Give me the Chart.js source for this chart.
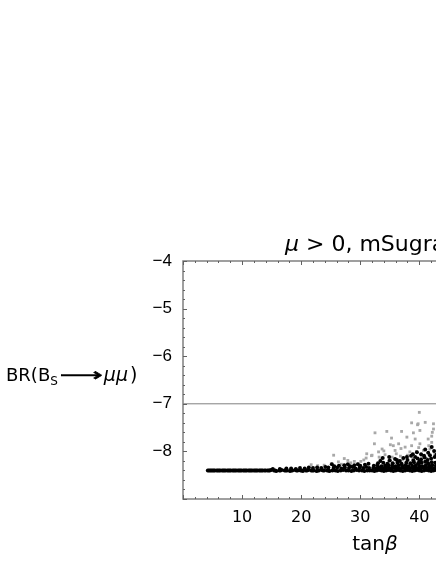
<!DOCTYPE html>
<html>
<head>
<meta charset="utf-8">
<script src="https://cdn.jsdelivr.net/npm/chart.js@4"></script>
<style>
  html, body { margin: 0; padding: 0; background: #fff; overflow: hidden; }
  #wrap { width: 436px; height: 564px; overflow: hidden; position: relative; }
  canvas { position: absolute; left: 0; top: 0; }
</style>
</head>
<body>
<div id="wrap"><canvas id="brChart" width="600" height="564"></canvas></div>
<script>
// tick labels
const xTickLabels = [10, 20, 30, 40, 50, 60];
const yTickLabels = [-4, -5, -6, -7, -8];

// experimental bound
const boundTan = [0, 65];
const boundBR = [-7, -7];

// points passing all constraints (black), [tanβ, log10 BR]
const blackPts = [
  [4.2,-8.40],[4.4,-8.40],[4.6,-8.40],[4.8,-8.40],[5.0,-8.40],[5.2,-8.40],[5.4,-8.40],[5.7,-8.40],
  [5.9,-8.40],[6.1,-8.40],[6.3,-8.40],[6.6,-8.40],[6.8,-8.40],[7.0,-8.40],[7.2,-8.40],[7.5,-8.40],
  [7.7,-8.40],[7.9,-8.40],[8.1,-8.40],[8.4,-8.40],[8.6,-8.40],[8.8,-8.40],[9.0,-8.40],[9.3,-8.40],
  [9.5,-8.40],[9.7,-8.40],[9.9,-8.40],[10.2,-8.40],[10.4,-8.40],[10.6,-8.40],[10.8,-8.40],[11.1,-8.40],
  [11.3,-8.40],[11.5,-8.40],[11.7,-8.40],[12.0,-8.40],[12.2,-8.40],[12.4,-8.40],[12.6,-8.40],[12.9,-8.40],
  [13.1,-8.40],[13.3,-8.40],[13.5,-8.40],[13.8,-8.40],[14.0,-8.40],[14.3,-8.40],
  [14.5,-8.40],[14.9,-8.39],[15.4,-8.40],[15.8,-8.41],[16.3,-8.40],[16.7,-8.39],[17.2,-8.40],[17.6,-8.40],
  [18.1,-8.41],[18.5,-8.40],[19.0,-8.39],[19.4,-8.40],[19.9,-8.40],[20.3,-8.41],[20.8,-8.40],[21.2,-8.39],
  [21.7,-8.40],[22.1,-8.40],[22.6,-8.41],[23.0,-8.40],[23.5,-8.39],[23.9,-8.40],[24.4,-8.40],[24.8,-8.41],
  [14.7,-8.40],[15.6,-8.40],[16.5,-8.40],[17.4,-8.40],[18.3,-8.40],[19.2,-8.40],[20.1,-8.40],[21.0,-8.40],
  [21.9,-8.40],[22.8,-8.40],[23.7,-8.40],[24.6,-8.40],
  [15.2,-8.37],[16.4,-8.37],[17.5,-8.36],[18.3,-8.36],[19.1,-8.37],[19.8,-8.35],[20.6,-8.36],[21.3,-8.34],
  [22.0,-8.35],[22.7,-8.34],[23.4,-8.35],[24.1,-8.33],[24.6,-8.34],[25.2,-8.27],[25.6,-8.31],
  [25.3,-8.40],[25.8,-8.40],[26.2,-8.41],[26.7,-8.40],[27.1,-8.39],[27.6,-8.40],[28.0,-8.40],[28.5,-8.41],
  [28.9,-8.40],[29.4,-8.39],[29.8,-8.40],[30.3,-8.40],[30.7,-8.41],[31.2,-8.40],[31.6,-8.40],
  [25.5,-8.35],[26.1,-8.34],[26.8,-8.36],[27.4,-8.34],[28.1,-8.35],[28.7,-8.33],[29.2,-8.36],[29.9,-8.34],
  [30.5,-8.35],[31.0,-8.33],[31.5,-8.35],
  [26.4,-8.30],[27.3,-8.29],[28.3,-8.31],[29.0,-8.29],[30.0,-8.30],[30.8,-8.28],[31.4,-8.26],[27.9,-8.27],[29.6,-8.27],
  [32.0,-8.40],[32.4,-8.41],[32.8,-8.40],[33.2,-8.39],[33.6,-8.40],[34.0,-8.41],[34.4,-8.40],[34.8,-8.39],
  [35.2,-8.40],[35.6,-8.41],[36.0,-8.40],[36.4,-8.39],[36.8,-8.40],[37.2,-8.41],[37.6,-8.40],[38.0,-8.39],
  [38.4,-8.40],[38.8,-8.41],[39.2,-8.40],[39.6,-8.39],[40.0,-8.40],[40.4,-8.41],[40.8,-8.40],[41.2,-8.39],
  [41.6,-8.40],[42.0,-8.41],[42.4,-8.40],[42.8,-8.39],[43.2,-8.40],
  [32.2,-8.35],[32.7,-8.36],[33.1,-8.34],[33.5,-8.35],[34.0,-8.36],[34.4,-8.34],[34.9,-8.35],[35.3,-8.36],
  [35.8,-8.34],[36.2,-8.35],[36.6,-8.36],[37.1,-8.34],[37.5,-8.35],[38.0,-8.34],[38.4,-8.36],[38.9,-8.35],
  [39.3,-8.34],[39.8,-8.35],[40.2,-8.36],[40.7,-8.34],[41.1,-8.35],[41.6,-8.34],[42.0,-8.35],[42.5,-8.36],[43.0,-8.34],
  [32.3,-8.30],[32.9,-8.29],[33.6,-8.31],[34.2,-8.30],[34.8,-8.29],[35.4,-8.30],[36.0,-8.31],[36.5,-8.29],
  [37.1,-8.30],[37.7,-8.29],[38.2,-8.31],[38.8,-8.30],[39.4,-8.29],[40.0,-8.30],[40.5,-8.31],[41.1,-8.29],
  [41.7,-8.30],[42.2,-8.29],[42.8,-8.30],
  [33.0,-8.25],[33.9,-8.24],[34.6,-8.26],[35.5,-8.25],[36.3,-8.24],[37.0,-8.26],[37.8,-8.24],[38.5,-8.25],
  [39.1,-8.23],[39.8,-8.25],[40.4,-8.24],[41.0,-8.22],[41.5,-8.25],[42.1,-8.23],[42.7,-8.24],
  [33.4,-8.20],[35.0,-8.19],[36.7,-8.20],[38.0,-8.18],[39.0,-8.19],[39.7,-8.15],[40.3,-8.17],[40.9,-8.13],
  [41.4,-8.18],[42.0,-8.15],[42.6,-8.12],[37.3,-8.14],[35.9,-8.16],
  [33.8,-8.14],[34.9,-8.12],[36.2,-8.18],[37.9,-8.12],[38.9,-8.06],[39.3,-8.12],[40.0,-8.21],[41.8,-8.08],
  [39.6,-8.02],[40.3,-8.06],[41.0,-7.96],[41.5,-8.03],[42.1,-7.91],[42.5,-7.99],[40.8,-8.09],[38.6,-8.09],[42.9,-8.07]
];

// excluded points (gray)
const grayPts = [
  [21.7,-8.28],[22.8,-8.30],[23.9,-8.29],[25.1,-8.26],[25.5,-8.08],[26.3,-8.22],[26.8,-8.27],[27.3,-8.15],
  [27.9,-8.19],[28.4,-8.24],[29.0,-8.21],[29.6,-8.26],[30.1,-8.21],[30.6,-8.18],[31.0,-8.14],[31.1,-8.05],
  [31.9,-8.09],[32.0,-8.08],[32.4,-7.84],[32.5,-7.61],[33.1,-8.01],[33.2,-8.12],[33.5,-8.17],[33.7,-7.95],
  [34.0,-7.99],[34.2,-8.07],[34.5,-7.58],[34.8,-8.20],[35.1,-7.86],[35.3,-7.72],[35.4,-8.12],[35.6,-7.88],
  [35.9,-7.98],[36.1,-8.05],[36.5,-7.84],[36.8,-8.10],[36.9,-7.94],[37.0,-7.58],[37.2,-8.18],[37.6,-7.91],
  [37.9,-7.70],[38.0,-8.08],[38.4,-8.01],[38.7,-7.40],[38.7,-7.88],[38.9,-8.15],[39.0,-7.61],[39.3,-7.74],
  [39.5,-8.00],[39.7,-7.44],[39.8,-7.42],[39.9,-7.92],[40.0,-7.18],[40.1,-7.84],[40.1,-7.56],[40.4,-8.10],
  [40.7,-7.98],[41.0,-7.39],[41.3,-8.15],[41.5,-7.74],[41.6,-7.88],[41.8,-7.95],[42.1,-7.81],[42.1,-7.68],
  [42.2,-7.60],[42.4,-7.53],[42.4,-7.42],[42.6,-8.05],[43.1,-7.72],[43.4,-7.90]
];

const toXY = pts => pts.map(p => ({ x: p[0], y: p[1] }));

const FONT = '"Liberation Sans", Arial, sans-serif';
const WIDE = '"DejaVu Sans", sans-serif';

const frameAndText = {
  id: 'frameAndText',
  afterDraw(chart) {
    const { ctx, chartArea: a, scales: { x, y } } = chart;
    ctx.save();

    // frame
    ctx.strokeStyle = '#808080';
    ctx.lineWidth = 1.5;
    ctx.strokeRect(a.left, a.top, a.right - a.left, a.bottom - a.top);

    // inward ticks
    ctx.strokeStyle = '#606060';
    ctx.lineWidth = 1;
    ctx.beginPath();
    for (let i = 0; i <= 32; i++) {
      const px = Math.round(x.getPixelForValue(i * 2)) + 0.5;
      const len = i % 5 === 0 ? 4 : 2;
      ctx.moveTo(px, a.bottom); ctx.lineTo(px, a.bottom - len);
      ctx.moveTo(px, a.top); ctx.lineTo(px, a.top + len);
    }
    for (let i = 0; i <= 25; i++) {
      const py = Math.round(y.getPixelForValue(-9 + i * 0.2)) + 0.5;
      const len = i % 5 === 0 ? 4 : 2;
      ctx.moveTo(a.left, py); ctx.lineTo(a.left + len, py);
    }
    ctx.stroke();

    ctx.fillStyle = '#000';
    ctx.textBaseline = 'alphabetic';
    ctx.textAlign = 'left';

    // title
    let tx = 285;
    ctx.font = 'italic 22px ' + WIDE;
    ctx.fillText('\u03bc', tx, 251);
    tx += ctx.measureText('\u03bc').width;
    ctx.font = '22px ' + WIDE;
    ctx.fillText(' > 0, mSugra', tx, 251);

    // x label
    ctx.font = '20px ' + WIDE;
    const wTan = ctx.measureText('tan').width;
    ctx.font = 'italic 20px ' + WIDE;
    const wB = ctx.measureText('\u03b2').width;
    const lx = (a.left + a.right) / 2 - (wTan + wB) / 2;
    ctx.font = '20px ' + WIDE;
    ctx.fillText('tan', lx, 550);
    ctx.font = 'italic 20px ' + WIDE;
    ctx.fillText('\u03b2', lx + wTan, 550);

    // y label
    let yx = 6;
    ctx.font = '18px ' + WIDE;
    ctx.fillText('BR(B', yx, 381);
    yx += ctx.measureText('BR(B').width;
    ctx.font = '12px ' + WIDE;
    ctx.fillText('S', yx, 385);
    yx += ctx.measureText('S').width + 2;
    ctx.font = '18px ' + WIDE;
    const wArrow = ctx.measureText('\u27f6').width;
    ctx.save();
    ctx.translate(yx, 381);
    ctx.scale(43 / wArrow, 1);
    ctx.lineWidth = 0.6;
    ctx.strokeStyle = '#000';
    ctx.strokeText('\u27f6', 0, 0);
    ctx.fillText('\u27f6', 0, 0);
    ctx.restore();
    yx += 44;
    ctx.font = 'italic 19px ' + WIDE;
    ctx.fillText('\u03bc\u03bc', yx, 381);
    yx += ctx.measureText('\u03bc\u03bc').width + 2;
    ctx.font = '19px ' + WIDE;
    ctx.fillText(')', yx, 381);

    ctx.restore();
  }
};

new Chart(document.getElementById('brChart'), {
  type: 'scatter',
  data: {
    datasets: [
      {
        data: toXY(blackPts),
        pointStyle: 'circle',
        pointRadius: 2,
        pointBackgroundColor: '#000',
        pointBorderWidth: 0
      },
      {
        data: toXY(grayPts),
        pointStyle: 'rect',
        pointRadius: 2,
        pointBackgroundColor: '#a8a8a8',
        pointBorderWidth: 0
      },
      {
        type: 'line',
        data: boundTan.map((t, i) => ({ x: t, y: boundBR[i] })),
        borderColor: '#808080',
        borderWidth: 1,
        pointRadius: 0,
        fill: false
      }
    ]
  },
  options: {
    responsive: false,
    animation: false,
    events: [],
    layout: { padding: { top: 261, left: 0, right: 33, bottom: 0 } },
    plugins: { legend: { display: false }, tooltip: { enabled: false } },
    scales: {
      x: {
        type: 'linear',
        min: 0,
        max: 65,
        grid: { display: false, drawTicks: false },
        border: { display: false },
        ticks: {
          stepSize: 10,
          padding: 9,
          color: '#000',
          font: { family: WIDE, size: 16 },
          callback: v => (xTickLabels.includes(v) ? String(v) : '')
        },
        afterFit: s => { s.height = 65; }
      },
      y: {
        type: 'linear',
        min: -9,
        max: -4,
        grid: { display: false, drawTicks: false },
        border: { display: false },
        ticks: {
          stepSize: 1,
          padding: 11,
          color: '#000',
          font: { family: FONT, size: 17 },
          callback: v => (yTickLabels.includes(v) ? '\u2212' + Math.abs(v) : '')
        },
        afterFit: s => { s.width = 183; }
      }
    }
  },
  plugins: [frameAndText]
});
</script>
</body>
</html>
